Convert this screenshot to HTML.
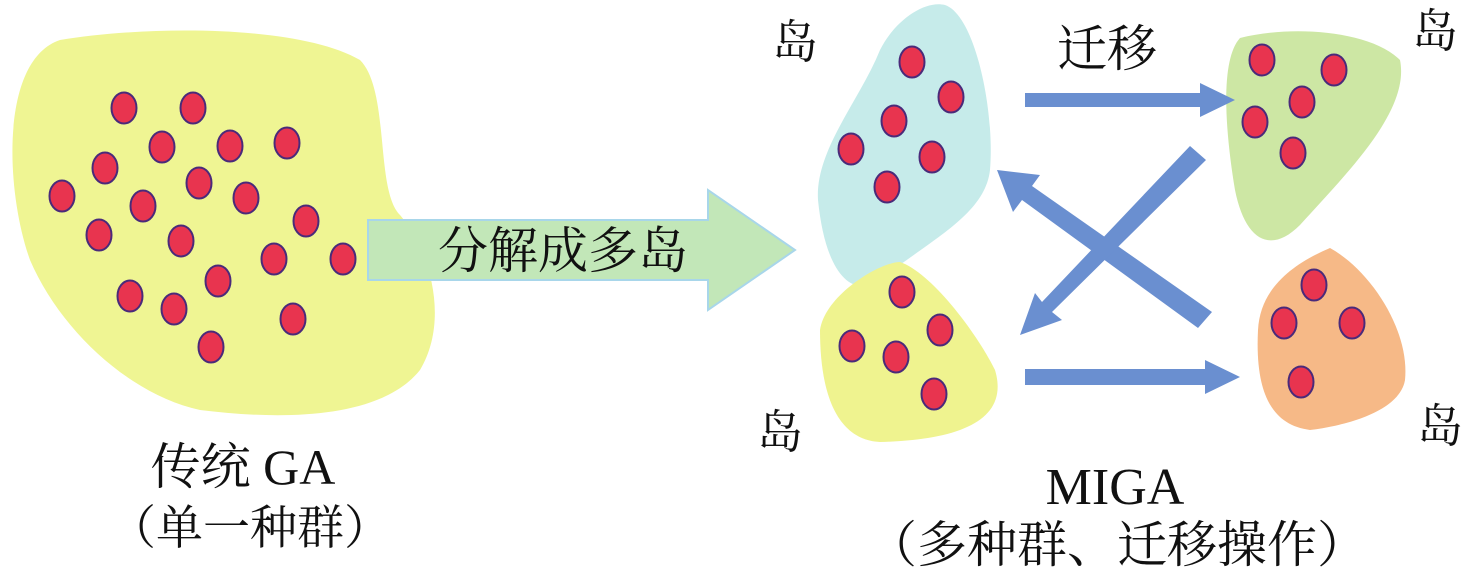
<!DOCTYPE html>
<html><head><meta charset="utf-8"><style>
html,body{margin:0;padding:0;background:#fff;width:1476px;height:575px;overflow:hidden}
svg text{font-family:"Liberation Serif","Noto Serif CJK SC",serif;fill:#111}
</style></head><body>
<svg width="1476" height="575" viewBox="0 0 1476 575" xmlns="http://www.w3.org/2000/svg">
<defs>
<g id="d"><ellipse rx="12.5" ry="15.5" fill="#e8344f" stroke="#4a2a7a" stroke-width="2"/></g>
</defs>
<path d="M60,40 C150,25 300,25 360,60 C390,90 375,190 400,215 C430,250 450,320 420,370 C380,420 280,420 200,410 C130,395 60,330 30,260 C5,190 0,60 60,40 Z" fill="#eff593"/>
<polygon points="368,220 708,220 708,190 795,250 708,310 708,280 368,280" fill="#c2e7b8" stroke="#a8d6ea" stroke-width="2"/>
<text x="563" y="268" font-size="50" text-anchor="middle">分解成多岛</text>
<path d="M945,5 C975,15 995,110 990,170 C985,215 930,240 880,280 C850,300 825,270 818,200 C815,150 860,100 880,50 C895,20 925,0 945,5 Z" fill="#c6ebea"/>
<path d="M1240,38 C1290,25 1370,30 1400,60 C1410,110 1350,170 1300,225 C1270,255 1245,240 1235,190 C1225,130 1220,60 1240,38 Z" fill="#cde7a4"/>
<path d="M900,262 C930,272 975,330 995,370 C1010,420 960,440 880,442 C840,440 820,400 820,330 C825,295 880,262 900,262 Z" fill="#eff38f"/>
<path d="M1330,248 C1370,270 1410,330 1405,380 C1400,410 1350,425 1310,430 C1270,425 1255,390 1258,330 C1260,290 1290,265 1330,248 Z" fill="#f6b987"/>
<g>
<use href="#d" x="124" y="108"/><use href="#d" x="193" y="108"/><use href="#d" x="162" y="147"/><use href="#d" x="230" y="146"/><use href="#d" x="287" y="143"/><use href="#d" x="105" y="168"/><use href="#d" x="199" y="183"/><use href="#d" x="62" y="196"/><use href="#d" x="143" y="206"/><use href="#d" x="246" y="198"/><use href="#d" x="306" y="221"/><use href="#d" x="99" y="235"/><use href="#d" x="181" y="241"/><use href="#d" x="274" y="259"/><use href="#d" x="343" y="259"/><use href="#d" x="218" y="281"/><use href="#d" x="130" y="296"/><use href="#d" x="174" y="309"/><use href="#d" x="293" y="319"/><use href="#d" x="211" y="347"/>
<use href="#d" x="912" y="62"/><use href="#d" x="951" y="97"/><use href="#d" x="894" y="121"/><use href="#d" x="851" y="149"/><use href="#d" x="932" y="157"/><use href="#d" x="887" y="187"/>
<use href="#d" x="1262" y="60"/><use href="#d" x="1334" y="70"/><use href="#d" x="1302" y="102"/><use href="#d" x="1255" y="122"/><use href="#d" x="1293" y="153"/>
<use href="#d" x="902" y="292"/><use href="#d" x="940" y="330"/><use href="#d" x="852" y="346"/><use href="#d" x="896" y="357"/><use href="#d" x="934" y="394"/>
<use href="#d" x="1314" y="285"/><use href="#d" x="1284" y="323"/><use href="#d" x="1352" y="323"/><use href="#d" x="1301" y="382"/>
</g>
<g fill="#6a8fd0">
<polygon points="1025,93 1200,93 1200,83 1235,100 1200,117 1200,107 1025,107"/>
<polygon points="1025,369 1205,369 1205,360 1240,377 1205,394 1205,385 1025,385"/>
<polygon points="1212,312 1198,328 1022,200 1013,212 997,170 1040,175 1032,186"/>
<polygon points="1190,146 1206,160 1052,312 1062,320 1020,335 1035,293 1042,302"/>
</g>
<text x="795" y="58" font-size="46" text-anchor="middle">岛</text>
<text x="1435" y="47" font-size="46" text-anchor="middle">岛</text>
<text x="780" y="448" font-size="46" text-anchor="middle">岛</text>
<text x="1440" y="442" font-size="46" text-anchor="middle">岛</text>
<text x="1107" y="66" font-size="50" text-anchor="middle">迁移</text>
<text x="243" y="484" font-size="50" text-anchor="middle">传统 GA</text>
<text x="250" y="544" font-size="47" text-anchor="middle">（单一种群）</text>
<text x="1115" y="504" font-size="52" text-anchor="middle">MIGA</text>
<text x="1117" y="562" font-size="50" text-anchor="middle">（多种群、迁移操作）</text>
</svg>
</body></html>
